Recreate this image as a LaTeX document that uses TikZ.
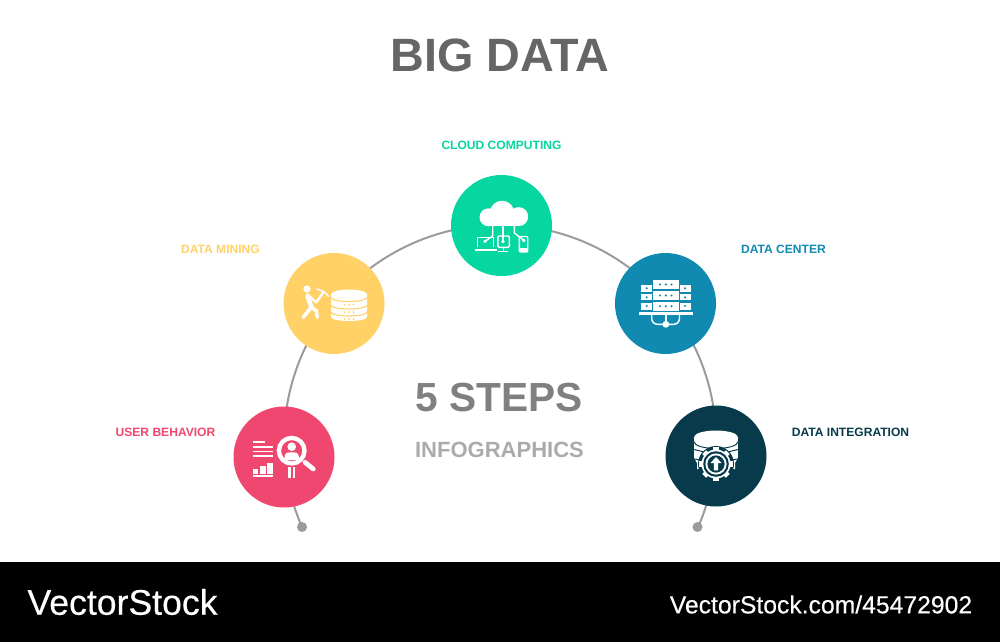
\documentclass[tikz,border=0pt]{standalone}
\usepackage{fontspec}
\setmainfont{Liberation Sans}
\newfontfamily\logofont[FakeBold=0.35]{Liberation Sans}
\definecolor{stepred}{HTML}{EF476F}
\definecolor{stepyellow}{HTML}{FFD166}
\definecolor{stepgreen}{HTML}{06D6A0}
\definecolor{stepblue}{HTML}{118AB2}
\definecolor{stepdark}{HTML}{073B4C}
\definecolor{stepgrey}{HTML}{9B9B9B}
\tikzset{
  stepdisc/.style={circle,minimum size=3.03cm,inner sep=0pt},
  stepdot/.style={circle,fill=stepgrey,minimum size=0.3cm,inner sep=0pt},
  steplabel/.style={inner sep=0pt,font=\fontsize{10.3}{12}\selectfont\bfseries},
  iconline/.style={draw=white,line width=1.2pt},
  iconthick/.style={draw=white,line width=3pt,line cap=round,line join=round},
  iconfill/.style={fill=white}
}
\begin{document}
\begin{tikzpicture}[x=0.03cm,y=-0.03cm]
  \useasboundingbox (0,0) rectangle (1000,642);

  % Footer band
  \fill [black] (0,562) rectangle (1000,642);
  \node (logo) [text=white,inner sep=0pt,font=\logofont\fontsize{30.4}{34}\selectfont] at (122.5,602) {VectorStock};
  \node (site) [text=white,inner sep=0pt,font=\logofont\fontsize{21.1}{24}\selectfont] at (821,604.5) {VectorStock.com/45472902};

  % Titles
  \node (title) [text=black!60,inner sep=0pt,font=\fontsize{39.9}{44}\selectfont\bfseries] at (500,55) {BIG DATA};
  \node (steps) [text=black!50,inner sep=0pt,font=\fontsize{34.7}{40}\selectfont\bfseries] at (499.5,397) {5 STEPS};
  \node (info) [text=black!33,inner sep=0pt,font=\fontsize{18.8}{22}\selectfont\bfseries] at (499.5,449.5) {INFOGRAPHICS};

  % Drawing arc through the five discs
  \node (startdot) [stepdot] at (302,527) {};
  \node (enddot) [stepdot] at (697.5,527) {};
  \draw [stepgrey,line width=1.7pt] (startdot.center) arc (156.5:383.5:216);

  % Drawing the discs
  \node (behavior) [stepdisc,fill=stepred] at (284,457) {};
  \node (mining) [stepdisc,fill=stepyellow] at (334,303.5) {};
  \node (cloud) [stepdisc,fill=stepgreen] at (501.5,225.5) {};
  \node (center) [stepdisc,fill=stepblue] at (665.5,303.5) {};
  \node (integration) [stepdisc,fill=stepdark] at (716,456) {};

  % Labels
  \node (behaviorlabel) [steplabel,text=stepred] at (165.5,432.5) {USER BEHAVIOR};
  \node (mininglabel) [steplabel,text=stepyellow] at (220.5,249.5) {DATA MINING};
  \node (cloudlabel) [steplabel,text=stepgreen] at (501.5,145) {CLOUD COMPUTING};
  \node (centerlabel) [steplabel,text=stepblue] at (783.5,249.5) {DATA CENTER};
  \node (integrationlabel) [steplabel,text=stepdark] at (850.5,432.5) {DATA INTEGRATION};

  % Icon user behavior: report
  \foreach \ly/\lx in {442.3/265,447.3/272.7,451.5/272.7,455.7/272.7}
    \draw [iconline,line width=1.5pt] (252.7,\ly) -- (\lx,\ly);
  \fill [iconfill] (253.3,469) rectangle (258.3,474);
  \fill [iconfill] (260,465.7) rectangle (265.7,474);
  \fill [iconfill] (266.9,463.3) rectangle (272.7,474);
  \draw [iconline,line width=1.5pt] (252.7,476) -- (272.7,476);

  % Icon user behavior: magnifier
  \fill [iconfill] (291.7,446.7) circle (4.3);
  \fill [iconfill] (284.5,460) -- (284.5,456) .. controls (284.5,453) and (287,452.3) .. (291.7,452.3)
    .. controls (296.4,452.3) and (298.9,453) .. (298.9,456) -- (298.9,460) -- cycle;
  \draw [iconline,line width=3.7pt] (291.7,450.7) circle (12.8);
  \draw [iconthick,line width=4pt] (305,462.3) -- (313.3,469);
  \fill [iconfill] (288.3,467.3) rectangle (290.7,477.5);
  \fill [iconfill] (292.7,467.3) rectangle (295.1,477.5);

  % Icon data mining: miner
  \fill [iconfill] (307,289) circle (3.6);
  \draw [iconthick,line width=4pt] (307.8,296) -- (311.3,307.3);
  \draw [iconthick,line width=3pt] (311.3,307.3) -- (303.3,317.3);
  \draw [iconthick,line width=3pt] (311.3,307.3) -- (316.3,310.7) -- (317.3,317.3);
  \draw [iconthick,line width=2pt] (307.3,294.5) -- (316.3,302.3) -- (323.5,292);
  \draw [iconline,line width=1.2pt] (316.3,289) .. controls (320,289.5) and (326,292) .. (328.7,296.7);

  % Icon data mining: database
  \fill [iconfill] (331,294.5) -- (331,317) arc (180:0:18 and 4) -- (367,294.5) -- cycle;
  \fill [iconfill] (349,294.5) ellipse (18 and 5);
  \foreach \ty in {297.5,305,312}
    \draw [stepyellow,line width=0.9pt] (331,\ty) arc (180:0:18 and 4);
  \foreach \ty in {304.5,312,319}
    \foreach \tx in {344.5,349,353.5}
      \fill [stepyellow] (\tx,\ty) circle (1);

  % Icon cloud computing: cloud
  \fill [iconfill] (502,213) circle (12.3);
  \fill [iconfill] (488.5,217.3) circle (9);
  \fill [iconfill] (518.7,216.6) circle (9.5);
  \fill [iconfill] (488.5,212) rectangle (518.7,226.2);

  % Icon cloud computing: wires
  \draw [iconline,line width=1.2pt] (492.7,226) -- (492.7,236) -- (485,241.3);
  \draw [iconline,line width=1.2pt] (503,226) -- (503,241);
  \draw [iconline,line width=1.2pt] (514.3,226) -- (514.3,233) -- (523.7,240);
  \foreach \wx/\wy in {485/241.3,503/241.5,523.7/240.5}
    \fill [iconfill] (\wx,\wy) circle (1.8);

  % Icon cloud computing: devices
  \draw [iconline] (477.7,247.3) -- (477.7,237.3) -- (493.7,237.3) -- (493.7,247.3);
  \draw [iconline,line width=1.4pt] (474.7,249.7) -- (497,249.7);
  \draw [iconline,rounded corners=1] (497.9,236) rectangle (509.3,247.3);
  \draw [iconline] (503.3,247.3) -- (503.3,251.3) (498,251.3) -- (508,251.3);
  \draw [iconline,rounded corners=1] (519.3,236.5) rectangle (527.7,252);
  \fill [iconfill] (519.3,248) rectangle (527.7,252);

  % Icon data center: racks
  \foreach \ry/\rb in {280/289,291/300,301.7/310.7} {
    \fill [iconfill] (652.7,\ry) rectangle (679,\rb);
    \foreach \rx in {660,665.8,671.5}
      \fill [stepblue] (\rx,\ry+4.5) circle (1.2);
  }
  \foreach \ry/\rb in {285/291.7,294/300,302.7/309.5} {
    \fill [iconfill] (640.7,\ry) rectangle (651.7,\rb);
    \fill [iconfill] (680,\ry) rectangle (691,\rb);
    \fill [stepblue] (646.7,\ry+3.3) circle (1.2);
    \fill [stepblue] (685,\ry+3.3) circle (1.2);
  }
  \fill [iconfill] (639,311.7) rectangle (692.7,315);

  % Icon data center: pipes
  \draw [iconline] (651.7,315) -- (651.7,318) .. controls (651.7,322) and (654,324.3) .. (658,324.3) -- (673.5,324.3)
    .. controls (677,324.3) and (679.5,322) .. (679.5,318) -- (679.5,315);
  \draw [iconline] (665.8,315) -- (665.8,324.3);
  \fill [iconfill] (665.8,324.3) circle (3.4);

  % Icon data integration: database
  \fill [iconfill] (694.2,437) -- (694.2,458) -- (697,463) -- (697,469) -- (735,469) -- (735,463) -- (737.8,458) -- (737.8,437) -- cycle;
  \fill [iconfill] (716,437) ellipse (21.8 and 6.5);
  \draw [stepdark,line width=0.8pt] (694.2,442) arc (180:0:21.8 and 6.5);
  \draw [stepdark,line width=0.8pt] (694.2,449.5) -- (708,453);
  \draw [stepdark,line width=0.8pt] (737.8,449.5) -- (724,453);
  \draw [stepdark,line width=0.8pt] (694.2,459) -- (701,460);
  \draw [stepdark,line width=0.8pt] (737.8,459) -- (731,460);

  % Icon data integration: gear
  \fill [stepdark] (716,464) circle (18);
  \foreach \ga in {0,45,...,315}
    \fill [iconfill,rotate around={\ga:(716,464)}] (713.3,447.3) rectangle (718.7,452);
  \fill [iconfill] (716,464) circle (14.5);
  \fill [stepdark] (716,464) circle (12.8);
  \fill [iconfill] (716,464) circle (10.6);
  \fill [stepdark] (716,464) circle (8.6);
  \fill [iconfill] (716,457) -- (721.5,463) -- (718.2,463) -- (718.2,470.3) -- (713.8,470.3) -- (713.8,463) -- (710.5,463) -- cycle;
\end{tikzpicture}
\end{document}
